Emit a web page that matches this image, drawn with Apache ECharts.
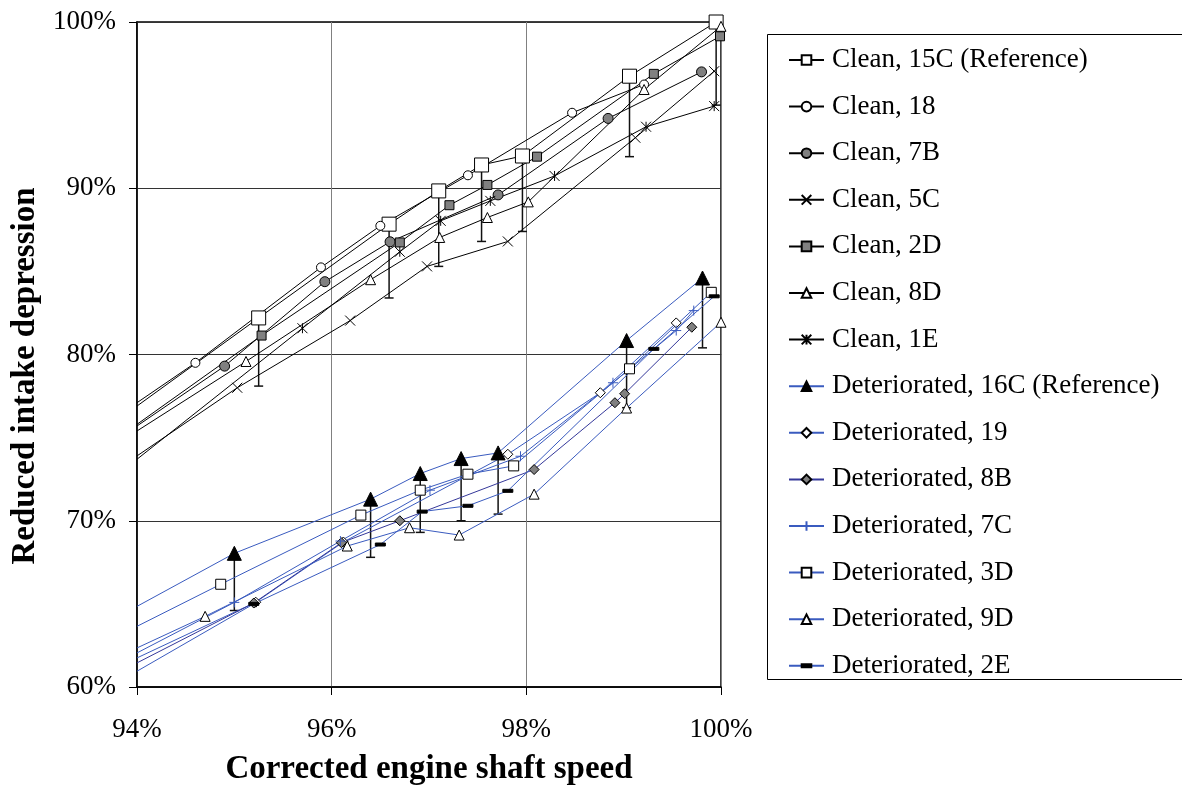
<!DOCTYPE html>
<html>
<head>
<meta charset="utf-8">
<title>Reduced intake depression vs corrected engine shaft speed</title>
<script src="https://cdn.jsdelivr.net/npm/echarts@6/dist/echarts.min.js"></script>
<style>
  html, body { margin: 0; padding: 0; background: #fff; }
  #chart { width: 1182px; height: 791px; }
</style>
</head>
<body>
<div id="chart"></div>
<script>
// Each series: [corrected shaft speed %, reduced intake depression %].
// The first pair is where the curve enters at the left edge of the plot (no marker).
const clean15C = [[94, 76.9], [95.25, 82.2], [96.59, 87.84], [97.10, 89.84], [97.54, 91.40], [97.96, 91.94], [99.06, 96.74], [99.95, 100.0]];
const clean18  = [[94, 77.1], [94.60, 79.5], [95.89, 85.24], [96.50, 87.74], [97.40, 90.78], [98.47, 94.54], [99.21, 96.24]];
const clean7B  = [[94, 75.7], [94.90, 79.3], [95.93, 84.38], [96.60, 86.78], [97.71, 89.6], [98.84, 94.2], [99.80, 97.0]];
const clean5C  = [[94, 73.9], [95.03, 78.0], [96.19, 82.04], [96.98, 85.3], [97.81, 86.8], [99.12, 93.04], [99.93, 97.04]];
const clean2D  = [[94, 75.8], [95.28, 81.14], [96.70, 86.74], [97.21, 88.98], [97.60, 90.2], [98.11, 91.9], [99.31, 96.88], [99.99, 99.14]];
const clean8D  = [[94, 75.4], [95.12, 79.58], [96.40, 84.5], [97.11, 87.04], [97.60, 88.24], [98.02, 89.18], [99.21, 95.94], [100.0, 99.74]];
const clean1E  = [[94, 73.7], [95.70, 81.58], [96.70, 86.18], [97.12, 88.04], [97.63, 89.24], [98.29, 90.74], [99.23, 93.7], [99.93, 94.94]];

const det16C = [[94, 64.85], [95.00, 68.04], [96.40, 71.3], [96.91, 72.84], [97.33, 73.74], [97.71, 74.08], [99.03, 80.84], [99.81, 84.6]];
const det19  = [[94, 61.75], [95.22, 65.1], [96.12, 68.72], [97.81, 74.0], [98.76, 77.7], [99.54, 81.9]];
const det8B  = [[94, 61.45], [95.20, 65.05], [96.10, 68.68], [96.70, 70.0], [98.08, 73.08], [98.91, 77.1], [99.01, 77.64], [99.70, 81.64]];
const det7C  = [[94, 62.05], [95.00, 65.09], [96.09, 68.78], [97.01, 71.84], [97.94, 73.88], [98.89, 78.3], [99.54, 81.44], [99.72, 82.64]];
const det3D  = [[94, 63.65], [94.86, 66.18], [96.30, 70.34], [96.91, 71.84], [97.40, 72.8], [97.87, 73.3], [99.06, 79.14], [99.90, 83.74]];
const det9D  = [[94, 62.35], [94.70, 64.25], [96.16, 68.48], [96.80, 69.58], [97.31, 69.14], [98.08, 71.6], [99.03, 76.78], [100.0, 81.94]];
const det2E  = [[94, 60.95], [95.20, 65.0], [96.50, 68.57], [96.93, 70.55], [97.40, 70.9], [97.81, 71.8], [99.31, 80.34], [99.93, 83.5]];

// Lower ends of the error bars on the two reference engines (one per marked point).
const low15C = [78.1, 83.4, 85.3, 86.8, 87.4, 91.9, 95.0];
const low16C = [64.6, 67.8, 69.3, 70.0, 70.4, 76.8, 80.4];

const xTicks = { min: 94, max: 100, step: 2 };
const yTicks = { min: 60, max: 100, step: 10 };

const FONT = "'Liberation Serif', 'Times New Roman', serif";
const BLUE = '#3a5bbf';
const NAVY = '#35389a';
const GREY = '#808080';

const SYM_X = 'path://M0,0L10,10M10,0L0,10';
const SYM_STAR = 'path://M0,0L10,10M10,0L0,10M5,0L5,10';
const SYM_PLUS = 'path://M5,0L5,10M0,5L10,5';
const SYM_DASH = 'path://M0,0M0,3.5L10,3.5L10,6.5L0,6.5ZM10,10';

function points(arr) {
  return arr.map((p, i) => i === 0 ? { value: p, symbol: 'none' } : { value: p });
}

function lineSeries(name, arr, symbol, size, fill, stroke, lineColor) {
  return {
    type: 'line',
    name: name,
    data: points(arr),
    symbol: symbol,
    symbolSize: size,
    showAllSymbol: true,
    clip: true,
    lineStyle: { color: lineColor, width: 1 },
    itemStyle: { color: fill, borderColor: stroke, borderWidth: 1 },
    emphasis: { disabled: true },
    z: 2
  };
}

function errorSeries(arr, lows) {
  const data = lows.map((lo, i) => [arr[i + 1][0], arr[i + 1][1], lo]);
  return {
    type: 'custom',
    data: data,
    silent: true,
    z: 2,
    renderItem: function (params, api) {
      const top = api.coord([api.value(0), api.value(1)]);
      const bot = api.coord([api.value(0), api.value(2)]);
      const style = { stroke: '#111', lineWidth: 1.5 };
      return {
        type: 'group',
        children: [
          { type: 'line', shape: { x1: top[0], y1: top[1], x2: bot[0], y2: bot[1] }, style: style },
          { type: 'line', shape: { x1: bot[0] - 4.5, y1: bot[1], x2: bot[0] + 4.5, y2: bot[1] }, style: style }
        ]
      };
    }
  };
}

const series = [
  lineSeries('Clean, 15C (Reference)', clean15C, 'rect', 14, '#fff', '#000', '#000'),
  errorSeries(clean15C, low15C),
  lineSeries('Clean, 18', clean18, 'circle', 9, '#fff', '#000', '#000'),
  lineSeries('Clean, 7B', clean7B, 'circle', 10, GREY, '#000', '#000'),
  lineSeries('Clean, 5C', clean5C, SYM_X, 10, 'none', '#000', '#000'),
  lineSeries('Clean, 2D', clean2D, 'rect', 9, GREY, '#000', '#000'),
  lineSeries('Clean, 8D', clean8D, 'triangle', 10, '#fff', '#000', '#000'),
  lineSeries('Clean, 1E', clean1E, SYM_STAR, 10, 'none', '#000', '#000'),
  lineSeries('Deteriorated, 16C (Reference)', det16C, 'triangle', 14, '#000', '#000', BLUE),
  errorSeries(det16C, low16C),
  lineSeries('Deteriorated, 19', det19, 'diamond', 10, '#fff', '#000', BLUE),
  lineSeries('Deteriorated, 8B', det8B, 'diamond', 10, GREY, '#000', NAVY),
  lineSeries('Deteriorated, 7C', det7C, SYM_PLUS, 10, 'none', BLUE, BLUE),
  lineSeries('Deteriorated, 3D', det3D, 'rect', 10, '#fff', '#000', BLUE),
  lineSeries('Deteriorated, 9D', det9D, 'triangle', 10, '#fff', '#000', BLUE),
  lineSeries('Deteriorated, 2E', det2E, SYM_DASH, 10, '#000', '#000', BLUE)
];

const legendNames = series.filter(s => s.type === 'line').map(s => s.name);

const chart = echarts.init(document.getElementById('chart'), null, { renderer: 'canvas' });
chart.setOption({
  animation: false,
  backgroundColor: '#fff',
  grid: {
    left: 137, top: 22, right: 461, bottom: 103,
    show: true, borderColor: '#000', borderWidth: 1.5, backgroundColor: 'transparent'
  },
  xAxis: {
    type: 'value',
    min: xTicks.min, max: xTicks.max, interval: xTicks.step,
    name: 'Corrected engine shaft speed',
    nameLocation: 'middle',
    nameGap: 66,
    nameTextStyle: { fontFamily: FONT, fontSize: 33, fontWeight: 'bold', color: '#000' },
    axisLine: { show: true, lineStyle: { color: '#000', width: 1.5 } },
    axisTick: { show: true, inside: false, length: 8, lineStyle: { color: '#000', width: 1 } },
    axisLabel: { margin: 29, fontFamily: FONT, fontSize: 27, color: '#000', formatter: '{value}%' },
    splitLine: { show: true, lineStyle: { color: '#808080', width: 1 } }
  },
  yAxis: {
    type: 'value',
    min: yTicks.min, max: yTicks.max, interval: yTicks.step,
    name: 'Reduced intake depression',
    nameLocation: 'middle',
    nameGap: 95,
    nameTextStyle: { fontFamily: FONT, fontSize: 33, fontWeight: 'bold', color: '#000', padding: [0, 43, 0, 0] },
    axisLine: { show: true, lineStyle: { color: '#000', width: 1.5 } },
    axisTick: { show: true, inside: false, length: 8, lineStyle: { color: '#000', width: 1 } },
    axisLabel: { margin: 21, fontFamily: FONT, fontSize: 27, color: '#000', formatter: '{value}%' },
    splitLine: { show: true, lineStyle: { color: '#333', width: 1 } }
  },
  legend: {
    data: legendNames,
    orient: 'vertical',
    left: 788,
    top: 46.5,
    padding: 0,
    itemWidth: 35,
    itemHeight: 12,
    itemGap: 19.6,
    selectedMode: false,
    textStyle: { fontFamily: FONT, fontSize: 27, color: '#000', padding: [0, 0, 0, 3] }
  },
  graphic: [
    {
      type: 'rect',
      left: 765, top: 32,
      shape: { width: 420, height: 645 },
      style: { fill: 'none', stroke: '#000', lineWidth: 1 },
      silent: true
    }
  ],
  series: series
});
</script>
</body>
</html>
